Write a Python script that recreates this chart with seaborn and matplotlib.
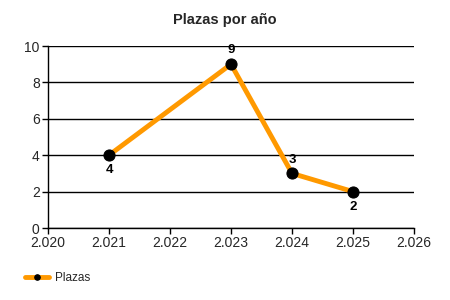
import matplotlib
matplotlib.use("Agg")
import matplotlib.pyplot as plt
import seaborn as sns
import pandas as pd
from matplotlib.ticker import FuncFormatter, MultipleLocator

years = [2021, 2023, 2024, 2025]
plazas = [4, 9, 3, 2]
label_pos = ["below", "above", "above", "below"]
title = "Plazas por año"
series_name = "Plazas"

sns.set_style("white")
plt.rcParams['font.family'] = ['Liberation Sans', 'DejaVu Sans']

df = pd.DataFrame({"Año": years, series_name: plazas})

fig = plt.figure(figsize=(4.5, 3), dpi=100)
ax = fig.add_axes([48/450, 1-228/300, (414-48)/450, (228-46)/300])

sns.lineplot(data=df, x="Año", y=series_name, ax=ax, color="#FF9900", linewidth=3.5,
             marker="o", markersize=8, markerfacecolor="black", markeredgecolor="black",
             label=series_name, zorder=3)

ax.set_xlim(2020, 2026)
ax.set_ylim(0, 10)
ax.xaxis.set_major_locator(MultipleLocator(1))
ax.yaxis.set_major_locator(MultipleLocator(2))
ax.xaxis.set_major_formatter(FuncFormatter(lambda v, p: f"{int(round(v)):,}".replace(",", ".")))
ax.set_xlabel("")
ax.set_ylabel("")
ax.grid(axis="y", color="black", linewidth=1)
ax.grid(axis="x", visible=False)
for s in ["top", "right"]:
    ax.spines[s].set_visible(False)
for s in ["left", "bottom"]:
    ax.spines[s].set_color("black")
    ax.spines[s].set_linewidth(1)
ax.tick_params(axis="both", which="major", length=4, width=1, color="black",
               labelsize=10, direction="out", pad=2, left=True, bottom=True)

for x, y, pos in zip(years, plazas, label_pos):
    off = 10 if pos == "above" else -11
    ax.annotate(str(y), (x, y), xytext=(0, off), textcoords="offset points",
                ha="center", va="center", fontsize=9.5, fontweight="bold", color="black")

fig.suptitle(title, x=0.5, y=1-20/300, fontsize=10.5, fontweight="bold", va="center")

ax.legend(loc="center left", bbox_to_anchor=(-0.075, -0.275), frameon=False, fontsize=8.5,
          handlelength=2.0, borderaxespad=0, handletextpad=0.5, markerscale=0.5)

fig.savefig("out.png", dpi=100)
